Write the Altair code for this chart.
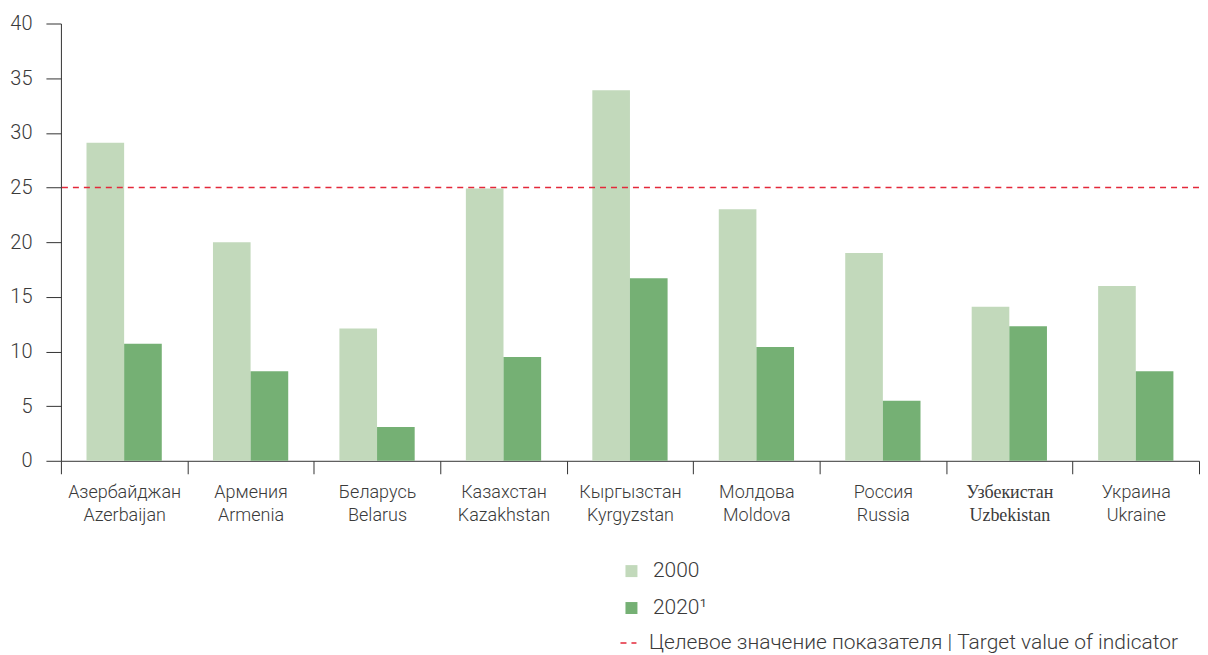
import altair as alt
import pandas as pd

countries = [
    "Азербайджан|Azerbaijan", "Армения|Armenia", "Беларусь|Belarus",
    "Казахстан|Kazakhstan", "Кыргызстан|Kyrgyzstan", "Молдова|Moldova",
    "Россия|Russia", "Узбекистан|Uzbekistan", "Украина|Ukraine",
]
values_2000 = [29.1, 20.0, 12.1, 24.9, 33.9, 23.0, 19.0, 14.1, 16.0]
values_2020 = [10.7, 8.2, 3.1, 9.5, 16.7, 10.4, 5.5, 12.3, 8.2]
years = ["2000", "2020¹"]
target_value = [25]
target_label = ["Целевое значение показателя | Target value of indicator"]

rows = []
for c, a, b in zip(countries, values_2000, values_2020):
    rows.append({"country": c, "year": years[0], "value": a})
    rows.append({"country": c, "year": years[1], "value": b})
df = pd.DataFrame(rows)
target_df = pd.DataFrame({"target": target_value, "label": target_label})

FONT = "Roboto"
TEXT = "#3a3a3a"
RED = "#e4283a"

x = alt.X(
    "country:N", sort=countries, title=None,
    scale=alt.Scale(paddingInner=0, paddingOuter=0),
    axis=alt.Axis(
        labelAngle=0,
        labelExpr="datum.value ? split(datum.value, '|') : ''",
        tickBand="extent", tickSize=13, tickColor="#333", domainColor="#333",
        grid=False,
        labelFontSize=18, labelColor=TEXT, labelPadding=10, labelLineHeight=23,
        labelFont={"condition": {"test": "datum.value == 'Узбекистан|Uzbekistan'", "value": "Liberation Serif"}, "value": FONT},
        labelFontWeight=300,
    ),
)
y = alt.Y(
    "value:Q", title=None,
    scale=alt.Scale(domain=[0, 40], nice=False),
    axis=alt.Axis(values=list(range(0, 41, 5)), tickSize=15, labelPadding=14,
                  labelFontSize=20, labelColor=TEXT, labelFont=FONT, labelFontWeight=300,
                  tickColor="#333", domainColor="#333", grid=False),
)

bars = alt.Chart(df).mark_bar().encode(
    x=x, y=y,
    xOffset=alt.XOffset("year:N", sort=years, scale=alt.Scale(paddingInner=0, paddingOuter=0.68)),
    color=alt.Color(
        "year:N", sort=years,
        scale=alt.Scale(domain=years, range=["#c2d9bb", "#75b074"]),
        legend=alt.Legend(
            title=None, orient="none", legendX=561, legendY=538, padding=0,
            symbolType="square", symbolSize=144, symbolStrokeWidth=0,
            labelFontSize=21, labelFont=FONT, labelFontWeight=300, labelColor=TEXT,
            labelOffset=11, rowPadding=15,
        ),
    ),
)

rule = alt.Chart(target_df).mark_rule(stroke=RED, color=RED, strokeWidth=1.3, opacity=1).encode(
    y=alt.Y("target:Q"),
    strokeDash=alt.StrokeDash(
        "label:N",
        scale=alt.Scale(range=[[6, 5]]),
        legend=alt.Legend(
            title=None, orient="none", legendX=558, legendY=610, padding=0,
            symbolType="stroke", symbolSize=256, symbolStrokeColor=RED,
            symbolStrokeWidth=1.3,
            labelFontSize=21, labelFont=FONT, labelFontWeight=300, labelColor=TEXT,
            labelOffset=10, labelLimit=700,
        ),
    ),
)

chart = alt.layer(bars, rule).resolve_legend(color="independent", strokeDash="independent").properties(
    width=1140, height=438,
    padding={"left": 1, "top": 5, "right": 0, "bottom": 0},
).configure(font=FONT).configure_view(strokeWidth=0, stroke="transparent")

chart.save("out.html", embed_options={"renderer": "svg", "actions": False})
